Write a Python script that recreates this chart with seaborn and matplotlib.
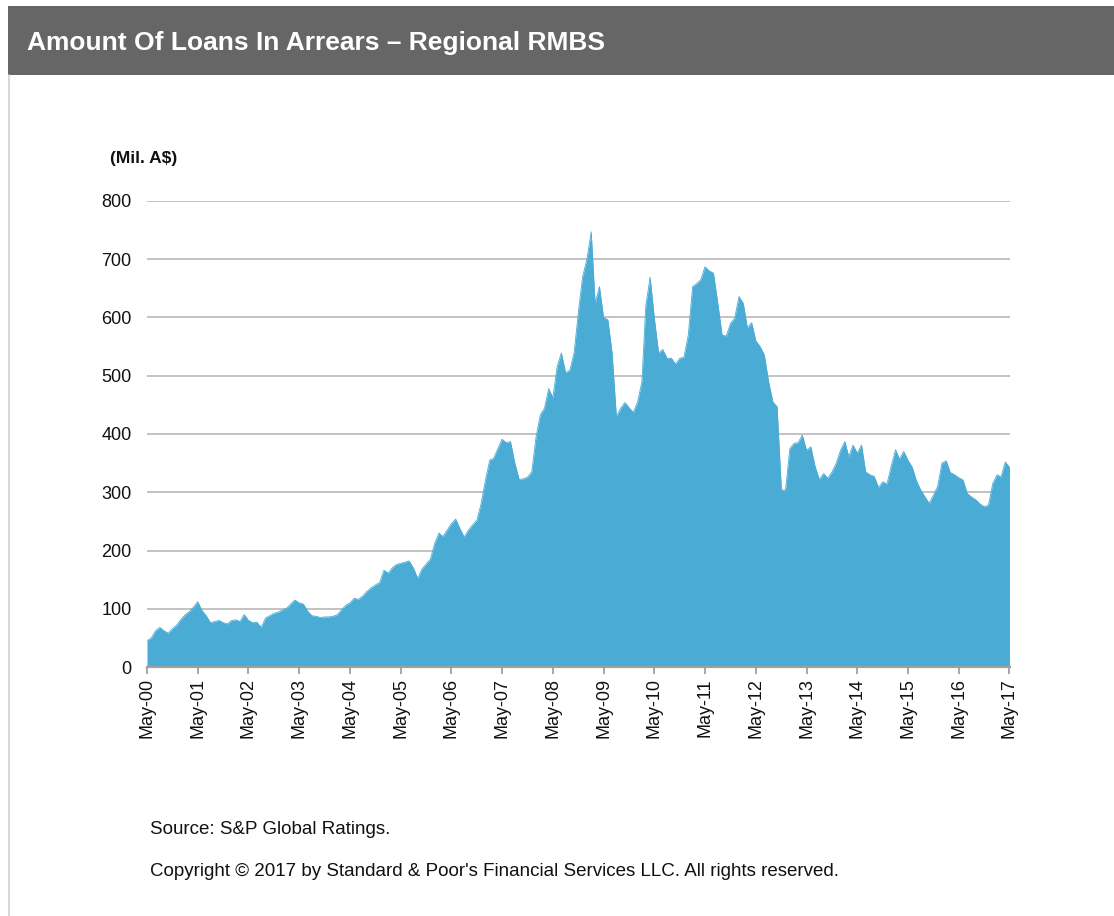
import numpy as np
import pandas as pd
import matplotlib
matplotlib.use("Agg")
import matplotlib.pyplot as plt
import seaborn as sns
from matplotlib.patches import Rectangle
from matplotlib.lines import Line2D

# ---------------- data (Mil. A$, monthly, May-00 .. May-17) ----------------
arrears_2000 = [45, 50, 62, 68, 62, 58, 66, 72, 82, 90, 95, 103]
arrears_2001 = [112, 97, 88, 76, 78, 80, 76, 74, 80, 81, 78, 90]
arrears_2002 = [80, 76, 77, 68, 84, 88, 92, 94, 98, 101, 108, 115]
arrears_2003 = [110, 108, 96, 88, 87, 85, 86, 86, 87, 90, 98, 106]
arrears_2004 = [110, 118, 116, 122, 130, 136, 141, 145, 166, 161, 170, 176]
arrears_2005 = [178, 180, 182, 170, 152, 168, 177, 185, 212, 230, 224, 235]
arrears_2006 = [246, 254, 238, 223, 235, 244, 252, 280, 320, 355, 358, 375]
arrears_2007 = [391, 385, 387, 350, 322, 323, 326, 335, 395, 433, 444, 478]
arrears_2008 = [462, 516, 539, 505, 510, 540, 610, 670, 700, 747, 624, 653]
arrears_2009 = [600, 596, 540, 430, 444, 454, 445, 437, 455, 490, 620, 669]
arrears_2010 = [600, 539, 545, 530, 530, 520, 530, 532, 570, 653, 658, 665]
arrears_2011 = [687, 680, 676, 625, 570, 568, 590, 599, 636, 624, 582, 591]
arrears_2012 = [560, 550, 536, 490, 455, 447, 304, 304, 375, 384, 385, 398]
arrears_2013 = [372, 378, 345, 322, 332, 324, 335, 350, 372, 387, 361, 381]
arrears_2014 = [367, 381, 335, 330, 327, 308, 318, 314, 345, 373, 357, 370]
arrears_2015 = [355, 343, 320, 304, 292, 281, 295, 310, 350, 354, 334, 330]
arrears_2016 = [325, 321, 298, 292, 287, 280, 275, 278, 315, 330, 326, 352]
arrears_2017 = [343]

arrears = (arrears_2000 + arrears_2001 + arrears_2002 + arrears_2003 + arrears_2004
           + arrears_2005 + arrears_2006 + arrears_2007 + arrears_2008 + arrears_2009
           + arrears_2010 + arrears_2011 + arrears_2012 + arrears_2013 + arrears_2014
           + arrears_2015 + arrears_2016 + arrears_2017)

tick_years = list(range(2000, 2018))
tick_labels = [f"May-{y % 100:02d}" for y in tick_years]
y_ticks = [0, 100, 200, 300, 400, 500, 600, 700, 800]

title = "Amount Of Loans In Arrears \u2013 Regional RMBS"
unit_label = "(Mil. A$)"
source_text = "Source: S&P Global Ratings."
copyright_text = "Copyright \u00a9 2017 by Standard & Poor's Financial Services LLC. All rights reserved."

dates = pd.date_range("2000-05-01", periods=len(arrears), freq="MS")
df = pd.DataFrame({"date": dates, "arrears": arrears})

# ---------------- style ----------------
sns.set_theme(style="white")
plt.rcParams["font.family"] = ["Liberation Sans", "DejaVu Sans"]

AREA = "#4aabd5"
W, H = 1114, 916

fig = plt.figure(figsize=(W / 100, H / 100), dpi=100)
fig.patch.set_facecolor("white")

# header band
fig.patches.append(Rectangle((8 / W, 1 - 75 / H), 1, (75 - 6) / H,
                             transform=fig.transFigure, facecolor="#666666",
                             edgecolor="none", zorder=0))
# left border line of the panel
fig.lines.append(Line2D([8.5 / W, 8.5 / W], [0, 1 - 75 / H], transform=fig.transFigure,
                        color="#cfcfcf", linewidth=1.2))

fig.text(27 / W, 1 - 43 / H, title, color="white", fontsize=19, fontweight="bold",
         va="center", ha="left")

ax = fig.add_axes([147 / W, 1 - 667 / H, (1010 - 147) / W, (667 - 201) / H])
sns.lineplot(data=df, x="date", y="arrears", ax=ax, color=AREA, linewidth=0.6)
ax.fill_between(df["date"], df["arrears"], color=AREA, linewidth=0, zorder=2)

ax.set_ylim(0, 800)
ax.set_xlim(dates[0], dates[-1] + pd.Timedelta(days=4))
ax.set_yticks(y_ticks)
ax.set_yticklabels([str(v) for v in y_ticks], fontsize=13, color="#111111")
ax.set_xticks([pd.Timestamp(f"{y}-05-01") for y in tick_years])
ax.set_xticklabels(tick_labels, rotation=90, fontsize=13, color="#111111")

ax.yaxis.grid(True, color="#bdbdbd", linewidth=1.3)
ax.xaxis.grid(False)
ax.set_axisbelow(True)
ax.set_xlabel("")
ax.set_ylabel("")

for s in ["top", "right", "left"]:
    ax.spines[s].set_visible(False)
ax.spines["bottom"].set_color("#a0a0a0")
ax.spines["bottom"].set_linewidth(1.6)
ax.tick_params(axis="x", length=5, width=1.3, color="#a0a0a0", pad=3, bottom=True)
ax.tick_params(axis="y", length=0, pad=11)

fig.text(110 / W, 1 - 158 / H, unit_label, fontsize=12.5, fontweight="bold",
         va="center", ha="left", color="#111111")

fig.text(150 / W, 1 - 830 / H, source_text, fontsize=13.5, va="center", ha="left",
         color="#111111")
fig.text(150 / W, 1 - 872 / H, copyright_text, fontsize=13.5, va="center", ha="left",
         color="#111111")

fig.savefig("out.png", dpi=100)
